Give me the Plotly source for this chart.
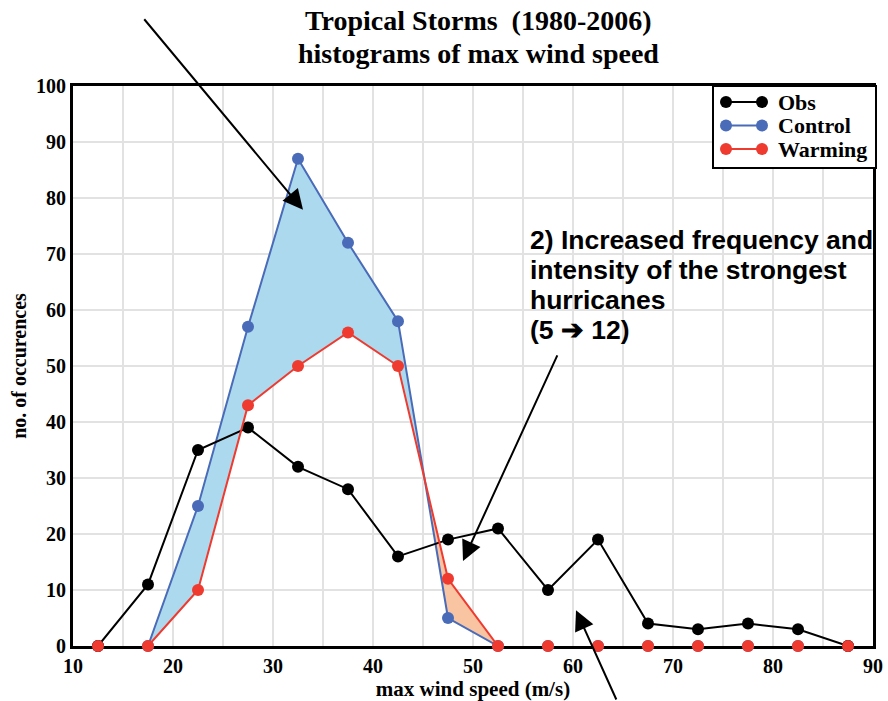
import numpy as np
import plotly.graph_objects as go

# ---------------- data ----------------
wind_bins = [12.5, 17.5, 22.5, 27.5, 32.5, 37.5, 42.5, 47.5, 52.5, 57.5,
             62.5, 67.5, 72.5, 77.5, 82.5, 87.5]
obs = [0, 11, 35, 39, 32, 28, 16, 19, 21, 10, 19, 4, 3, 4, 3, 0]
control = [0, 0, 25, 57, 87, 72, 58, 5, 0, 0, 0, 0, 0, 0, 0, 0]
warming = [0, 0, 10, 43, 50, 56, 50, 12, 0, 0, 0, 0, 0, 0, 0, 0]

series_names = ["Obs", "Control", "Warming"]
x_ticks = [10, 20, 30, 40, 50, 60, 70, 80, 90]
y_ticks = [0, 10, 20, 30, 40, 50, 60, 70, 80, 90, 100]

title_lines = ["Tropical Storms&nbsp;&nbsp;(1980-2006)", "histograms of max wind speed"]
note_lines = ["2) Increased frequency and", "intensity of the strongest",
              "hurricanes", "(5 \u2794 12)"]

C_OBS = "#000000"
C_CTL = "#4a6bb8"
C_WRM = "#ee3a2f"
C_BLUEFILL = "#acd9ee"
C_PEACH = "#f9c4a2"
SERIF = "Liberation Serif, Times New Roman, serif"
SANS = "Liberation Sans, Arial, sans-serif"
series_colors = [C_OBS, C_CTL, C_WRM]

x = np.array(wind_bins, dtype=float)
c = np.array(control, dtype=float)
w = np.array(warming, dtype=float)


def gapped(y):
    """Drop points whose neighbours are both zero (runs lying on the axis)."""
    y = np.array(y, dtype=float)
    out = []
    for i, v in enumerate(y):
        left = y[i - 1] if i > 0 else 0
        right = y[i + 1] if i < len(y) - 1 else 0
        out.append(v if (v != 0 or left != 0 or right != 0) else None)
    return out


# refine grid with crossing points between control and warming
rx, rc, rw = [], [], []
d = c - w
for i in range(len(x)):
    rx.append(x[i]); rc.append(c[i]); rw.append(w[i])
    if i < len(x) - 1 and d[i] * d[i + 1] < 0:
        t = d[i] / (d[i] - d[i + 1])
        xc = x[i] + t * (x[i + 1] - x[i])
        yc = c[i] + t * (c[i + 1] - c[i])
        rx.append(xc); rc.append(yc); rw.append(yc)
rx, rc, rw = np.array(rx), np.array(rc), np.array(rw)
rd = rc - rw

groups = []
cur_sign, start = 0, None
for j in range(len(rx) - 1):
    s = np.sign(rd[j] + rd[j + 1])
    if s != cur_sign:
        if cur_sign != 0:
            groups.append((cur_sign, start, j))
        cur_sign, start = s, j
if cur_sign != 0:
    groups.append((cur_sign, start, len(rx) - 1))

fig = go.Figure()

for sgn, a, b in groups:
    px = list(rx[a:b + 1]) + list(rx[a:b + 1][::-1])
    py = list(rc[a:b + 1]) + list(rw[a:b + 1][::-1])
    fig.add_trace(go.Scatter(
        x=px, y=py, mode="lines", fill="toself",
        fillcolor=C_BLUEFILL if sgn > 0 else C_PEACH,
        line=dict(width=0), showlegend=False, hoverinfo="skip"))

ms = 12

# Control
fig.add_trace(go.Scatter(
    x=wind_bins, y=gapped(control), mode="lines", name="Control",
    line=dict(color=C_CTL, width=2), cliponaxis=False, showlegend=False))
fig.add_trace(go.Scatter(
    x=wind_bins, y=control, mode="markers", showlegend=False,
    marker=dict(color=C_CTL, size=ms), cliponaxis=False))
# Obs
fig.add_trace(go.Scatter(
    x=wind_bins, y=obs, mode="lines+markers", name="Obs", showlegend=False,
    line=dict(color=C_OBS, width=2), marker=dict(color=C_OBS, size=ms),
    cliponaxis=False))
# Warming
fig.add_trace(go.Scatter(
    x=wind_bins, y=gapped(warming), mode="lines", name="Warming",
    line=dict(color=C_WRM, width=2), cliponaxis=False, showlegend=False))
fig.add_trace(go.Scatter(
    x=wind_bins, y=warming, mode="markers", showlegend=False,
    marker=dict(color=C_WRM, size=ms), cliponaxis=False))

grid_c = "#e2e2e2"
fig.update_layout(
    width=888, height=701,
    margin=dict(l=73, r=15, t=86, b=55),
    paper_bgcolor="white", plot_bgcolor="white",
    showlegend=False,
    xaxis=dict(range=[10, 90], tickvals=x_ticks, showgrid=True,
               gridcolor=grid_c, gridwidth=2, automargin=False,
               minor=dict(dtick=5, tick0=10, showgrid=True, gridcolor=grid_c, gridwidth=2),
               showline=True, linecolor="black", linewidth=3, mirror=True,
               zeroline=False, ticks="", layer="below traces",
               tickfont=dict(family=SERIF, size=20, color="black", weight="bold"),
               title=dict(text="<b>max wind speed (m/s)</b>", standoff=6,
                          font=dict(family=SERIF, size=21, color="black"))),
    yaxis=dict(range=[0, 100], tickvals=y_ticks, showgrid=True,
               gridcolor=grid_c, gridwidth=2, automargin=False,
               showline=True, linecolor="black", linewidth=3, mirror=True,
               zeroline=False, ticks="", layer="below traces",
               tickfont=dict(family=SERIF, size=20, color="black", weight="bold"),
               title=dict(text="<b>no. of occurences</b>", standoff=5,
                          font=dict(family=SERIF, size=20, color="black"))),
)

# title (two separate lines for tighter leading)
for i, line in enumerate(title_lines):
    fig.add_annotation(x=0.5, y=1, xref="paper", yref="paper", xanchor="center",
                       yanchor="middle", yshift=66 - 33 * i, xshift=5, showarrow=False,
                       text="<b>" + line + "</b>",
                       font=dict(family=SERIF, size=28, color="black"))

# custom legend box (pixel-based layout inside the top-right corner)
L, R, T, B = 73, 888 - 15, 86, 701 - 55
PW, PH = float(R - L), float(B - T)


def px2x(p):
    return (p - L) / PW


def py2y(p):
    return (B - p) / PH


fig.add_shape(type="rect", xref="paper", yref="paper",
              x0=px2x(713), x1=px2x(876), y0=py2y(168), y1=py2y(86),
              line=dict(color="black", width=2), fillcolor="white", layer="above")
for i, (nm, col) in enumerate(zip(series_names, series_colors)):
    yy = py2y(102 + 23.5 * i)
    fig.add_shape(type="line", xref="paper", yref="paper",
                  x0=px2x(726), x1=px2x(762), y0=yy, y1=yy,
                  line=dict(color=col, width=2), layer="above")
    for cx in (726, 762):
        fig.add_shape(type="circle", xref="paper", yref="paper",
                      xsizemode="pixel", ysizemode="pixel",
                      xanchor=px2x(cx), yanchor=yy, x0=-6, x1=6, y0=-6, y1=6,
                      line=dict(color=col, width=0), fillcolor=col, layer="above")
    fig.add_annotation(x=px2x(776), y=yy, xref="paper", yref="paper",
                       xanchor="left", yanchor="middle", showarrow=False,
                       text="<b>" + nm + "</b>",
                       font=dict(family=SERIF, size=22, color="black"))

# arrows
arrow_style = dict(showarrow=True, arrowhead=2, arrowsize=2.0, arrowwidth=2,
                   arrowcolor="black", text="", xref="x", yref="y")
fig.add_annotation(x=33.0, y=77.9, ax=-160, ay=-192, **arrow_style)
fig.add_annotation(x=49.0, y=15.2, ax=95, ay=-207, **arrow_style)
fig.add_annotation(x=60.3, y=6.4, ax=41, ay=91, **arrow_style)

# note text, one annotation per line
for i, line in enumerate(note_lines):
    fig.add_annotation(x=55.5, y=75.6, xref="x", yref="y", xanchor="left",
                       yanchor="top", yshift=-30 * i, showarrow=False,
                       text="<b>" + line + "</b>", align="left",
                       font=dict(family=SANS, size=26.5, color="black"))

fig.write_html("out.html")
